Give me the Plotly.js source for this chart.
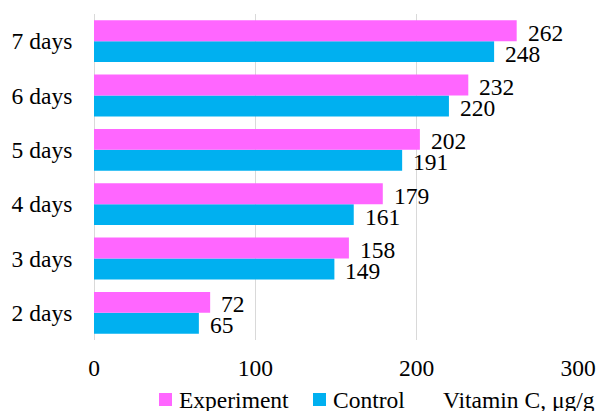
<!DOCTYPE html>
<html>
<head>
<meta charset="utf-8">
<script src="https://cdn.plot.ly/plotly-3.0.1.min.js"></script>
<style>
  html, body { margin: 0; padding: 0; background: #ffffff; }
  #chart { width: 600px; height: 411px; }
</style>
</head>
<body>
<div id="chart"></div>
<script>
// Vitamin C content by storage duration
const categories = ['2 days', '3 days', '4 days', '5 days', '6 days', '7 days'];
const experimentValues = [72, 158, 179, 202, 232, 262];
const controlValues = [65, 149, 161, 191, 220, 248];
const xTickValues = [0, 100, 200, 300];
const seriesNames = ['Experiment', 'Control'];

const FONT = 'Liberation Serif';
const FS = 23.5;
const PINK = '#FF66FF';
const BLUE = '#00B0F0';

const control = {
  type: 'bar', orientation: 'h', name: seriesNames[1],
  y: categories, x: controlValues,
  marker: { color: BLUE, line: { width: 0 } },
  hoverinfo: 'skip'
};
const experiment = {
  type: 'bar', orientation: 'h', name: seriesNames[0],
  y: categories, x: experimentValues,
  marker: { color: PINK, line: { width: 0 } },
  hoverinfo: 'skip'
};

// value labels placed just beyond each bar end
const half = (1 - 0.23) / 4;
const labelFont = { family: FONT, size: FS, color: '#000' };
const annotations = [];
categories.forEach((c, i) => {
  annotations.push({ x: experimentValues[i], y: i + half, xref: 'x', yref: 'y',
    text: String(experimentValues[i]), showarrow: false, xanchor: 'left',
    yanchor: 'middle', xshift: 10, yshift: -2, borderpad: 0, font: labelFont });
  annotations.push({ x: controlValues[i], y: i - half, xref: 'x', yref: 'y',
    text: String(controlValues[i]), showarrow: false, xanchor: 'left',
    yanchor: 'middle', xshift: 10, yshift: -2, borderpad: 0, font: labelFont });
});

// axis title at the lower right
annotations.push({ x: 1.039, y: -0.184, xref: 'paper', yref: 'paper',
  text: 'Vitamin C, μg/g', showarrow: false, xanchor: 'right', yanchor: 'middle',
  font: labelFont });

// legend row along the bottom: swatch + series name
const legendItems = [
  { name: seriesNames[0], color: PINK, x: 0.1343 },
  { name: seriesNames[1], color: BLUE, x: 0.4525 }
];
const swatchW = 13 / 484;
const shapes = [];
legendItems.forEach(it => {
  shapes.push({ type: 'rect', xref: 'paper', yref: 'paper',
    x0: it.x, x1: it.x + swatchW, y0: -0.2025, y1: -0.1626,
    fillcolor: it.color, line: { width: 0 } });
  annotations.push({ x: it.x + swatchW + 6 / 484, y: -0.184, xref: 'paper', yref: 'paper',
    text: it.name, showarrow: false, xanchor: 'left', yanchor: 'middle',
    borderpad: 0, font: labelFont });
});

const layout = {
  width: 600, height: 411,
  margin: { l: 94, r: 22, t: 14, b: 71, autoexpand: false },
  paper_bgcolor: '#ffffff', plot_bgcolor: '#ffffff',
  barmode: 'group', bargap: 0.23, bargroupgap: 0,
  font: { family: FONT, size: FS, color: '#000' },
  xaxis: {
    range: [0, 300], tickvals: xTickValues, showgrid: true,
    gridcolor: '#D9D9D9', gridwidth: 1, zeroline: true, zerolinecolor: '#D9D9D9',
    zerolinewidth: 1, showline: false, ticks: 'outside', ticklen: 7,
    tickcolor: 'rgba(0,0,0,0)', fixedrange: true, automargin: false,
    tickfont: { family: FONT, size: FS, color: '#000' }
  },
  yaxis: {
    type: 'category', categoryarray: categories, showgrid: false,
    showline: false, ticks: 'outside', ticklen: 16, tickcolor: 'rgba(0,0,0,0)',
    fixedrange: true, automargin: false,
    tickfont: { family: FONT, size: FS, color: '#000' }
  },
  showlegend: false,
  shapes: shapes,
  annotations: annotations
};

Plotly.newPlot('chart', [control, experiment], layout, { staticPlot: true, displayModeBar: false });
</script>
</body>
</html>
